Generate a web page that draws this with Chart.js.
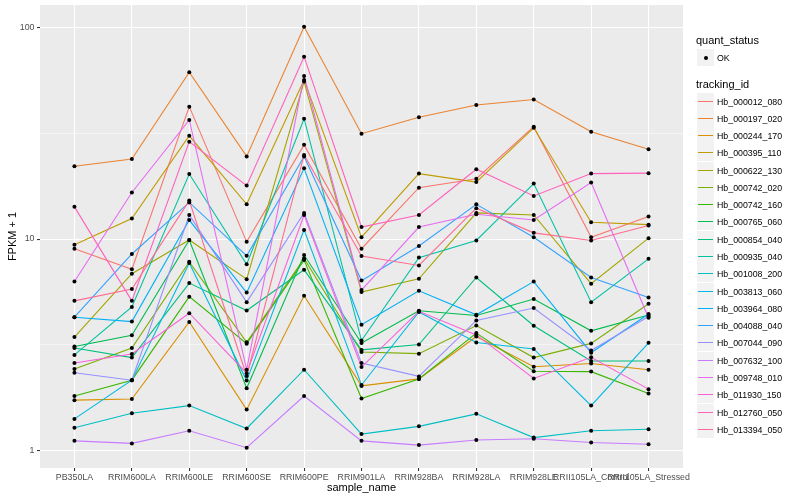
<!DOCTYPE html>
<html><head><meta charset="utf-8">
<script src="https://cdn.jsdelivr.net/npm/chart.js@4/dist/chart.umd.min.js"></script>
<style>
html,body{margin:0;padding:0;background:#fff;}
#wrap{position:relative;width:800px;height:500px;overflow:hidden;}
#c{position:absolute;left:0;top:0;}
#legend{position:absolute;left:0;top:0;width:800px;height:500px;font-family:'Liberation Sans',Arial,sans-serif;pointer-events:none;}
.ttl{position:absolute;left:696px;font-size:11px;color:#000;line-height:13px;white-space:nowrap;}
.key{position:absolute;left:697px;width:17px;height:17px;background:#F2F2F2;}
.lbl{position:absolute;left:717px;font-size:8.8px;color:#000;line-height:10px;white-space:nowrap;}
.seg{position:absolute;left:1px;top:7.75px;width:15px;height:1.5px;}
.dot{position:absolute;left:6.5px;top:6.5px;width:4px;height:4px;border-radius:50%;background:#000;}
</style></head>
<body><div id="wrap"><canvas id="c" width="800" height="500"></canvas><div id="legend"></div></div>
<script>
const categories = ['PB350LA','RRIM600LA','RRIM600LE','RRIM600SE','RRIM600PE','RRIM901LA','RRIM928BA','RRIM928LA','RRIM928LE','RRII105LA_Control','RRII105LA_Stressed'];
const trackingIds = ['Hb_000012_080','Hb_000197_020','Hb_000244_170','Hb_000395_110','Hb_000622_130','Hb_000742_020','Hb_000742_160','Hb_000765_060','Hb_000854_040','Hb_000935_040','Hb_001008_200','Hb_003813_060','Hb_003964_080','Hb_004088_040','Hb_007044_090','Hb_007632_100','Hb_009748_010','Hb_011930_150','Hb_012760_050','Hb_013394_050'];
const quantStatus = ['OK'];
const yTickValues = [1, 10, 100];

const hb_000012_080 = [9.0, 7.2, 42.3, 9.7, 27.9, 9.0, 17.5, 19.3, 34.0, 10.2, 12.8];
const hb_000197_020 = [22.1, 23.9, 61.5, 24.6, 101, 31.5, 37.7, 43.1, 45.7, 32.2, 26.6];
const hb_000244_170 = [1.73, 1.75, 4.05, 1.56, 5.39, 2.02, 2.18, 3.46, 2.49, 2.58, 2.41];
const hb_000395_110 = [9.4, 12.5, 30.8, 14.6, 56.6, 10.2, 20.4, 18.6, 33.6, 12.0, 11.7];
const hb_000622_130 = [3.44, 6.86, 9.9, 6.46, 55.6, 5.61, 6.49, 13.3, 13.0, 6.15, 10.1];
const hb_000742_020 = [2.43, 3.05, 7.8, 3.25, 8.1, 2.92, 2.87, 3.9, 2.75, 3.21, 4.94];
const hb_000742_160 = [1.81, 2.15, 5.34, 3.20, 7.95, 1.76, 2.18, 3.59, 2.37, 2.36, 1.86];
const hb_000765_060 = [3.1, 3.51, 9.9, 1.97, 8.4, 3.22, 4.58, 4.35, 5.2, 3.68, 4.37];
const hb_000854_040 = [3.05, 2.75, 6.19, 4.59, 7.15, 2.99, 3.17, 6.58, 3.89, 2.65, 2.65];
const hb_000935_040 = [2.83, 4.77, 20.3, 7.6, 37.1, 3.31, 8.17, 9.85, 18.3, 5.03, 8.06];
const hb_001008_200 = [1.28, 1.50, 1.63, 1.27, 2.41, 1.195, 1.30, 1.49, 1.15, 1.24, 1.26];
const hb_003813_060 = [1.41, 2.15, 7.7, 2.14, 11.05, 2.04, 4.52, 3.24, 3.02, 1.63, 3.23];
const hb_003964_080 = [4.27, 4.07, 12.3, 5.58, 21.6, 3.93, 5.69, 4.38, 6.29, 2.90, 4.42];
const hb_004088_040 = [4.27, 8.5, 14.9, 8.33, 24.6, 6.36, 9.27, 14.6, 10.2, 6.58, 5.29];
const hb_007044_090 = [2.33, 2.15, 13.0, 5.03, 13.3, 2.59, 2.24, 4.12, 4.72, 2.97, 4.30];
const hb_007632_100 = [1.11, 1.08, 1.24, 1.03, 1.81, 1.11, 1.06, 1.12, 1.135, 1.09, 1.07];
const hb_009748_010 = [6.3, 16.6, 36.6, 2.41, 59.1, 5.74, 11.4, 13.1, 12.3, 18.5, 4.24];
const hb_011930_150 = [2.59, 2.86, 4.46, 2.32, 13.0, 2.48, 4.55, 3.52, 2.19, 2.76, 1.95];
const hb_012760_050 = [14.2, 5.1, 28.9, 17.9, 72.9, 11.4, 13.0, 21.4, 16.0, 20.4, 20.5];
const hb_013394_050 = [5.1, 5.8, 15.2, 2.25, 25.0, 8.31, 7.5, 14.0, 10.7, 9.85, 11.6];

const seriesValues = [hb_000012_080, hb_000197_020, hb_000244_170, hb_000395_110, hb_000622_130, hb_000742_020, hb_000742_160, hb_000765_060, hb_000854_040, hb_000935_040, hb_001008_200, hb_003813_060, hb_003964_080, hb_004088_040, hb_007044_090, hb_007632_100, hb_009748_010, hb_011930_150, hb_012760_050, hb_013394_050];

const palette = ['#F8766D','#EA8331','#D89000','#C09B00','#A3A500','#7CAE00','#39B600','#00BB4E','#00BF7D','#00C1A3','#00BFC4','#00BAE0','#00B0F6','#35A2FF','#9590FF','#C77CFF','#E76BF3','#FA62DB','#FF62BC','#FF6C91'];

Chart.defaults.font.family = "'Liberation Sans', Arial, sans-serif";

const datasets = seriesValues.map((vals, i) => ({
  label: trackingIds[i],
  data: vals.map((v, j) => ({x: j, y: v})),
  borderColor: palette[i],
  backgroundColor: palette[i],
  borderWidth: 1.1,
  pointRadius: 0,
  tension: 0,
  order: 100 - i
}));
const allPoints = [];
seriesValues.forEach(vals => vals.forEach((v, j) => allPoints.push({x: j, y: v})));
datasets.push({
  label: quantStatus[0],
  data: allPoints,
  showLine: false,
  pointRadius: 2,
  pointBorderWidth: 0,
  pointBackgroundColor: '#000',
  borderColor: '#000',
  order: 0
});

const minorTicks = [Math.sqrt(10), Math.sqrt(1000)];
const isMajor = v => yTickValues.some(t => Math.abs(t - v) < 1e-6);

const bgPlugin = {
  id: 'panelbg',
  beforeDraw(chart) {
    const {ctx, chartArea: a} = chart;
    ctx.save();
    ctx.fillStyle = '#EBEBEB';
    ctx.fillRect(a.left, a.top, a.right - a.left, a.bottom - a.top);
    ctx.restore();
  }
};

new Chart(document.getElementById('c'), {
  type: 'line',
  data: {datasets},
  plugins: [bgPlugin],
  options: {
    responsive: false,
    animation: false,
    devicePixelRatio: 1,
    layout: {padding: {left: 0, top: 5, right: 117, bottom: 0}},
    plugins: {legend: {display: false}, tooltip: {enabled: false}},
    scales: {
      x: {
        type: 'linear',
        min: -0.6, max: 10.6,
        afterBuildTicks: s => { s.ticks = categories.map((_, i) => ({value: i})); },
        afterFit: s => { s.height = 32; s.paddingLeft = 0; s.paddingRight = 0; },
        ticks: {
          callback: v => categories[v],
          autoSkip: false, maxRotation: 0, minRotation: 0,
          color: '#4D4D4D', font: {size: 8.8}, padding: 1
        },
        grid: {color: '#FFFFFF', lineWidth: 1.07, tickColor: '#333333', tickLength: 3, tickWidth: 1.07},
        border: {display: false},
        title: {display: true, text: 'sample_name', color: '#000', font: {size: 11}, padding: {top: 0, bottom: 5.4}}
      },
      y: {
        type: 'logarithmic',
        min: 0.826, max: 128,
        afterBuildTicks: s => { s.ticks = [1, minorTicks[0], 10, minorTicks[1], 100].map(v => ({value: v})); },
        afterFit: s => { s.width = 40; s.paddingTop = 0; s.paddingBottom = 0; },
        ticks: {
          callback: v => isMajor(v) ? String(Math.round(v)) : '',
          autoSkip: false, color: '#4D4D4D', font: {size: 8.8}, padding: 2.5
        },
        grid: {
          color: '#FFFFFF',
          lineWidth: c => isMajor(c.tick.value) ? 1.07 : 0.53,
          tickColor: c => isMajor(c.tick.value) ? '#333333' : 'rgba(0,0,0,0)',
          tickLength: 3, tickWidth: 1.07
        },
        border: {display: false},
        title: {display: true, text: 'FPKM + 1', color: '#000', font: {size: 11}, padding: {top: 6.4, bottom: 0}}
      }
    }
  }
});

// legend (HTML)
const lg = document.getElementById('legend');
function add(cls, top, html) {
  const d = document.createElement('div');
  d.className = cls; d.style.top = top + 'px';
  d.innerHTML = html || '';
  lg.appendChild(d); return d;
}
add('ttl', 34, 'quant_status');
add('key', 49, '<div class="dot"></div>');
add('lbl', 52.5, quantStatus[0]);
add('ttl', 77.5, 'tracking_id');
trackingIds.forEach((id, i) => {
  const top = Math.round(92.5 + i * 17.28);
  add('key', top, '<div class="seg" style="background:' + palette[i] + '"></div>');
  add('lbl', top + 3.5, id);
});
</script>
</body></html>
